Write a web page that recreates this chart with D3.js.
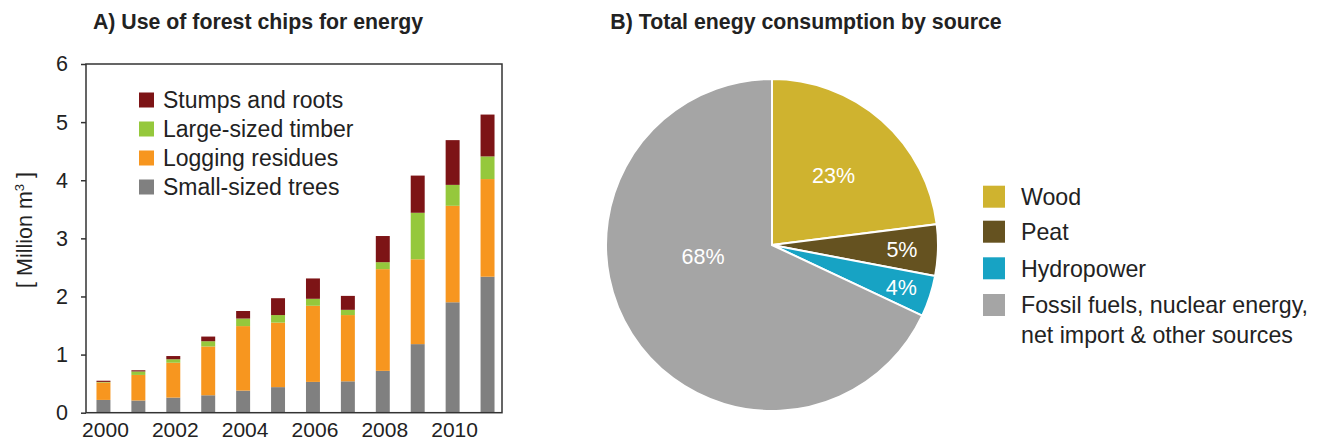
<!DOCTYPE html>
<html><head><meta charset="utf-8">
<script src="https://cdn.jsdelivr.net/npm/d3@7"></script>
<style>
body{margin:0;background:#fff;}
svg text{font-family:"Liberation Sans",Arial,sans-serif;fill:#222;}
</style></head>
<body><svg id="c" width="1324" height="443"></svg>
<script>
// ---- Data: chart A ----
const years = [2000,2001,2002,2003,2004,2005,2006,2007,2008,2009,2010,2011];
const smallTrees   = [0.22,0.21,0.26,0.30,0.38,0.44,0.53,0.54,0.72,1.18,1.90,2.34];
const loggingRes   = [0.30,0.44,0.60,0.84,1.11,1.11,1.31,1.14,1.75,1.46,1.66,1.68];
const largeTimber  = [0.01,0.06,0.06,0.09,0.13,0.13,0.12,0.09,0.12,0.80,0.36,0.39];
const stumpsRoots  = [0.02,0.02,0.055,0.08,0.13,0.29,0.35,0.24,0.45,0.64,0.77,0.72];
const seriesNames  = ["Small-sized trees","Logging residues","Large-sized timber","Stumps and roots"];
const seriesColors = ["#808080","#f7961f","#95c83c","#7d1416"];
const yTicks = [0,1,2,3,4,5,6];
const xTickYears = [2000,2002,2004,2006,2008,2010];
// ---- Data: chart B ----
const sources = ["Wood","Peat","Hydropower","Fossil fuels, nuclear energy, net import & other sources"];
const sourceLines = [["Wood"],["Peat"],["Hydropower"],["Fossil fuels, nuclear energy,","net import & other sources"]];
const shares = [23,5,4,68];
const sourceColors = ["#cfb32f","#655220","#17a3c4","#a5a5a5"];

(function(){
const svg = d3.select("#c");

// ================= Chart A =================
const pL=86, pR=502, pT=64, pB=412.7;
const y = d3.scaleLinear().domain([0,6]).range([pB, pT]);
const x = d3.scaleBand().domain(years).range([pL, 505]).paddingInner(0.6).paddingOuter(0.3);

const tableA = years.map((yr,i)=>({year:yr, s0:smallTrees[i], s1:loggingRes[i], s2:largeTimber[i], s3:stumpsRoots[i]}));
const stack = d3.stack().keys(["s0","s1","s2","s3"])(tableA);

svg.append("text").attr("x",258).attr("y",29).attr("text-anchor","middle")
  .style("font-size","21.3px").style("font-weight","bold").text("A) Use of forest chips for energy");

const gA = svg.append("g");
stack.forEach((layer,k)=>{
  gA.append("g").attr("fill",seriesColors[k]).selectAll("rect").data(layer).join("rect")
    .attr("x",d=>x(d.data.year)).attr("width",x.bandwidth())
    .attr("y",d=>y(d[1])).attr("height",d=>y(d[0])-y(d[1]));
});

// frame
svg.append("rect").attr("x",pL).attr("y",pT).attr("width",pR-pL).attr("height",pB-pT)
  .attr("fill","none").attr("stroke","#333").attr("stroke-width",1.5);

const yAx = svg.append("g").attr("transform",`translate(${pL},0)`)
  .call(d3.axisLeft(y).tickValues(yTicks).tickSize(5).tickPadding(13).tickFormat(d3.format("d")));
yAx.select(".domain").remove();
yAx.selectAll("line").attr("stroke","#333").attr("stroke-width",1.5);
yAx.selectAll("text").style("font-size","21.5px").attr("fill","#222");

const xAx = svg.append("g").attr("transform",`translate(2,${pB})`)
  .call(d3.axisBottom(x).tickValues(xTickYears).tickSize(0).tickPadding(9));
xAx.select(".domain").remove();
xAx.selectAll("text").style("font-size","21px").attr("fill","#222");

// y label
const yl = svg.append("text").attr("transform","translate(32,230) rotate(-90)")
  .attr("text-anchor","middle").style("font-size","21.5px");
yl.append("tspan").text("[ Million m");
yl.append("tspan").attr("dy","-8").style("font-size","13px").text("3");
yl.append("tspan").attr("dy","8").text(" ]");

// legend A (top to bottom: reverse order)
const legA = svg.append("g");
const legOrder = [3,2,1,0];
legOrder.forEach((k,i)=>{
  const cy = 100 + i*29;
  legA.append("rect").attr("x",139).attr("y",cy-7.5).attr("width",15).attr("height",15).attr("fill",seriesColors[k]);
  legA.append("text").attr("x",163).attr("y",cy).attr("dy","0.36em").style("font-size","23px").text(seriesNames[k]);
});

// ================= Chart B =================
svg.append("text").attr("x",806).attr("y",29).attr("text-anchor","middle")
  .style("font-size","21.3px").style("font-weight","bold").text("B) Total enegy consumption by source");

const cx=772, cy=245, R=166;
const pie = d3.pie().sort(null).value(d=>d)(shares);
const arc = d3.arc().innerRadius(0).outerRadius(R);
const gB = svg.append("g").attr("transform",`translate(${cx},${cy})`);
gB.selectAll("path").data(pie).join("path").attr("d",arc)
  .attr("fill",(d,i)=>sourceColors[i]).attr("stroke","#fff").attr("stroke-width",2);

const labelLayout = [{r:93},{r:130},{r:136},{r:70, a:260.4}];
gB.selectAll("text.pl").data(pie).join("text").attr("class","pl")
  .attr("transform",(d,i)=>{
    const L = labelLayout[i];
    const a = L.a!==undefined ? L.a*Math.PI/180 : (d.startAngle+d.endAngle)/2;
    return `translate(${L.r*Math.sin(a)},${-L.r*Math.cos(a)})`;
  })
  .attr("text-anchor","middle").attr("dy","0.36em")
  .style("font-size","21.5px").style("fill","#fff").text((d,i)=>shares[i]+"%");

// legend B
const legB = svg.append("g");
const rowY = [196.7,231.7,268.3,305];
sources.forEach((s,i)=>{
  const ry = rowY[i];
  legB.append("rect").attr("x",983).attr("y",ry-11).attr("width",22).attr("height",22).attr("fill",sourceColors[i]);
  sourceLines[i].forEach((ln,j)=>{
    legB.append("text").attr("x",1021).attr("y",ry+j*30).attr("dy","0.36em").style("font-size","23.2px").text(ln);
  });
});
})();
</script></body></html>
